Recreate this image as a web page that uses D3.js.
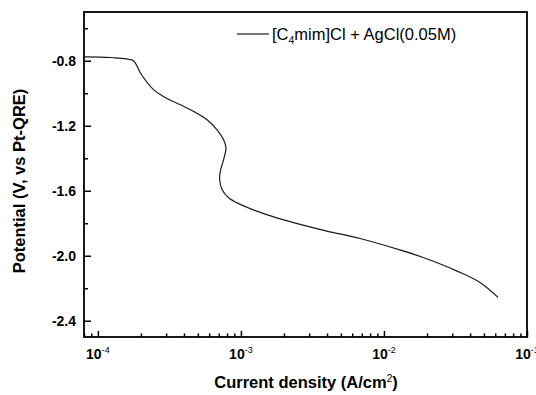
<!DOCTYPE html>
<html>
<head>
<meta charset="utf-8">
<script src="https://cdn.jsdelivr.net/npm/d3@7"></script>
<style>
  body { margin: 0; background: #fff; }
  svg { display: block; font-family: "Liberation Sans", Arial, sans-serif; }
</style>
</head>
<body>
<div id="chart"></div>
<script>
// polarisation curve
const currentDensity = [8.07e-5, 1.23e-4, 1.74e-4, 1.83e-4, 1.99e-4, 2.46e-4, 2.89e-4, 3.78e-4,
  4.68e-4, 5.80e-4, 6.81e-4, 7.57e-4, 7.87e-4, 7.57e-4, 7.18e-4, 7.10e-4, 7.38e-4, 8.20e-4,
  9.90e-4, 1.29e-3, 1.83e-3, 2.33e-3, 3.99e-3, 6.81e-3, 1.29e-2, 1.88e-2, 3.22e-2, 4.69e-2, 6.28e-2];
const potential = [-0.776, -0.780, -0.796, -0.814, -0.877, -0.979, -1.021, -1.071,
  -1.112, -1.163, -1.225, -1.286, -1.337, -1.408, -1.480, -1.531, -1.592, -1.643,
  -1.684, -1.725, -1.770, -1.796, -1.848, -1.894, -1.964, -2.011, -2.093, -2.164, -2.256];

const yMajor = [-0.8, -1.2, -1.6, -2.0, -2.4];
const yMinor = [-0.6, -1.0, -1.4, -1.8, -2.2];
const xMajor = [1e-4, 1e-3, 1e-2, 1e-1];
const xExponents = ["-4", "-3", "-2", "-1"];

const width = 536, height = 395;
const margin = { top: 12, right: 9, bottom: 58, left: 84 };

const svg = d3.select("#chart").append("svg")
  .attr("width", width)
  .attr("height", height);

const x = d3.scaleLog().domain([8e-5, 0.1]).range([margin.left, width - margin.right]);
const y = d3.scaleLinear().domain([-2.5, -0.5]).range([height - margin.bottom, margin.top]);

const xMinor = x.ticks().filter(t => !xMajor.some(m => Math.abs(t - m) / m < 1e-6));

// axes, ticks pointing inward
function styleAxis(g) {
  g.select(".domain").remove();
  g.selectAll(".tick line").attr("stroke", "#000").attr("stroke-width", 1.5);
}

svg.append("g")
  .attr("transform", `translate(0,${height - margin.bottom})`)
  .call(d3.axisBottom(x).tickValues(xMajor).tickSize(-6).tickFormat(""))
  .call(styleAxis);
svg.append("g")
  .attr("transform", `translate(0,${height - margin.bottom})`)
  .call(d3.axisBottom(x).tickValues(xMinor).tickSize(-3.5).tickFormat(""))
  .call(styleAxis);

svg.append("g")
  .attr("transform", `translate(${margin.left},0)`)
  .call(d3.axisLeft(y).tickValues(yMajor).tickSize(-7).tickFormat(""))
  .call(styleAxis);
svg.append("g")
  .attr("transform", `translate(${margin.left},0)`)
  .call(d3.axisLeft(y).tickValues(yMinor).tickSize(-4).tickFormat(""))
  .call(styleAxis);

// y tick labels
svg.append("g").selectAll("text")
  .data(yMajor)
  .join("text")
  .attr("x", margin.left - 8)
  .attr("y", d => y(d))
  .attr("dy", "0.36em")
  .attr("text-anchor", "end")
  .attr("font-size", 14)
  .attr("font-weight", "bold")
  .text(d => d.toFixed(1));

// x tick labels 10^n
const xl = svg.append("g").selectAll("text")
  .data(xMajor)
  .join("text")
  .attr("x", d => x(d))
  .attr("y", height - margin.bottom + 22)
  .attr("text-anchor", "middle")
  .attr("font-size", 14)
  .attr("font-weight", "bold");
xl.append("tspan").text("10");
xl.append("tspan")
  .attr("dy", -6)
  .attr("font-size", 9)
  .attr("font-weight", "normal")
  .text((d, i) => xExponents[i]);

// frame
svg.append("rect")
  .attr("x", margin.left)
  .attr("y", margin.top)
  .attr("width", width - margin.left - margin.right)
  .attr("height", height - margin.top - margin.bottom)
  .attr("fill", "none")
  .attr("stroke", "#000")
  .attr("stroke-width", 1.8);

// curve
const pts = currentDensity.map((c, i) => [c, potential[i]]);
const line = d3.line()
  .x(d => x(d[0]))
  .y(d => y(d[1]))
  .curve(d3.curveCatmullRom.alpha(0.5));

svg.append("path")
  .datum(pts)
  .attr("fill", "none")
  .attr("stroke", "#1a1a1a")
  .attr("stroke-width", 1.2)
  .attr("d", line);

// legend
svg.append("line")
  .attr("x1", 237).attr("x2", 269)
  .attr("y1", 34).attr("y2", 34)
  .attr("stroke", "#1a1a1a")
  .attr("stroke-width", 1.2);
const lg = svg.append("text")
  .attr("x", 272)
  .attr("y", 40)
  .attr("font-size", 16.5);
lg.append("tspan").text("[C");
lg.append("tspan").attr("dy", 4).attr("font-size", 10.5).text("4");
lg.append("tspan").attr("dy", -4).text("mim]Cl + AgCl(0.05M)");

// axis titles
const xt = svg.append("text")
  .attr("x", 306)
  .attr("y", 388)
  .attr("text-anchor", "middle")
  .attr("font-size", 16.5)
  .attr("font-weight", "bold");
xt.append("tspan").text("Current density (A/cm");
xt.append("tspan").attr("dy", -6).attr("font-size", 10).attr("font-weight", "normal").text("2");
xt.append("tspan").attr("dy", 6).text(")");

svg.append("text")
  .attr("transform", "translate(25,181) rotate(-90)")
  .attr("text-anchor", "middle")
  .attr("font-size", 16.5)
  .attr("font-weight", "bold")
  .text("Potential (V, vs Pt-QRE)");
</script>
</body>
</html>
